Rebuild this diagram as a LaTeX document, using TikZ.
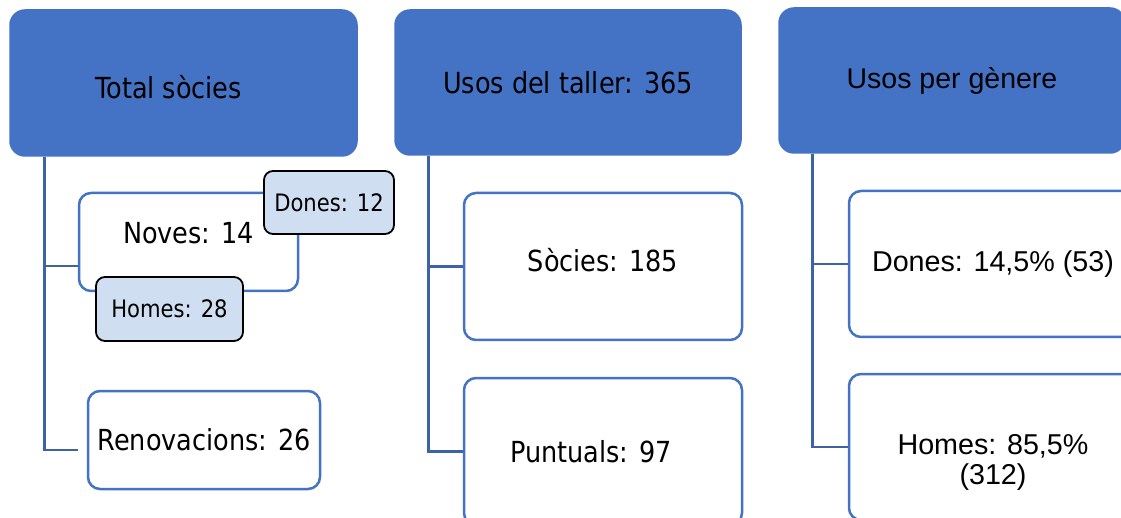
\documentclass[tikz,border=0pt]{standalone}
\usepackage{fontspec}
\usepackage{tikz}
\usetikzlibrary{shapes,arrows,positioning}
\newfontfamily\tahoma{DejaVu Sans}[FakeStretch=0.88]
\newfontfamily\arial{Liberation Sans}
\definecolor{blauSA}{HTML}{4472C4}
\definecolor{blauLinia}{HTML}{3E62A6}
\definecolor{blauClar}{HTML}{CFDEF0}
\tikzstyle{capcalera} = [draw=blauSA, fill=blauSA, rectangle, rounded corners=15pt, line width=1.5pt, text=black, font=\tahoma\fontsize{29}{31}\selectfont]
\tikzstyle{caixa} = [draw=blauSA, fill=white, rectangle, rounded corners=12pt, line width=2.5pt, align=center, font=\tahoma\fontsize{29}{31}\selectfont]
\tikzstyle{etiqueta} = [draw=black, fill=blauClar, rectangle, rounded corners=9pt, line width=1.8pt, font=\tahoma\fontsize{24}{26}\selectfont]
\tikzstyle{branca} = [draw=blauLinia, line width=2.6pt]

\begin{document}
\begin{tikzpicture}[x=1pt,y=-1pt]
	\useasboundingbox (0,0) rectangle (1121,518);
	\node [capcalera, minimum width=347pt, minimum height=146pt, label={[font=\tahoma\fontsize{29}{31}\selectfont, xshift=-15pt, yshift=-4pt]center:Total sòcies}] (total) at (183.5,83) {};
	\node [capcalera, minimum width=346pt, minimum height=145pt] (taller) at (568,82.5) {Usos del taller: 365};
	\node [capcalera, minimum width=346pt, minimum height=145pt, font=\arial\fontsize{28.5}{30}\selectfont] (genere) at (952,80.5) {Usos per gènere};

	\node [caixa, minimum width=219pt, minimum height=98pt, label={[font=\tahoma\fontsize{29}{31}\selectfont, yshift=9pt]center:Noves: 14}] (noves) at (188.5,242) {};
	\node [caixa, minimum width=232pt, minimum height=98pt] (renov) at (204,440) {Renovacions: 26};
	\node [etiqueta, minimum width=130pt, minimum height=63pt] (dones) at (329,202.5) {Dones: 12};
	\node [etiqueta, minimum width=147pt, minimum height=64pt] (homes) at (169.5,309) {Homes: 28};

	\node [caixa, minimum width=278pt, minimum height=147pt, label={[font=\tahoma\fontsize{29}{31}\selectfont, yshift=6pt]center:Sòcies: 185}] (socies) at (603,266.5) {};
	\node [caixa, minimum width=278pt, minimum height=147pt, label={[font=\tahoma\fontsize{29}{31}\selectfont, xshift=-12pt]center:Puntuals: 97}] (puntuals) at (603,451.5) {};

	\node [caixa, minimum width=288pt, minimum height=146pt, font=\arial\fontsize{28.7}{30}\selectfont] (donesg) at (993,264) {Dones: 14,5\% (53)};
	\node [caixa, minimum width=288pt, minimum height=146pt, label={[font=\arial\fontsize{28.7}{30}\selectfont, align=center, yshift=-15pt]center:Homes: 85,5\%\\(312)}] (homesg) at (993,447) {};

	\draw [branca] ([xshift=35pt]total.south west) |- ([yshift=-24pt]noves.west);
	\draw [branca, shorten >=9pt] ([xshift=35pt]total.south west) |- ([yshift=-10pt]renov.west);
	\draw [branca] ([xshift=34pt]taller.south west) |- (socies.west);
	\draw [branca] ([xshift=34pt]taller.south west) |- (puntuals.west);
	\draw [branca] ([xshift=34pt]genere.south west) |- (donesg.west);
	\draw [branca] ([xshift=34pt]genere.south west) |- (homesg.west);
\end{tikzpicture}
\end{document}
